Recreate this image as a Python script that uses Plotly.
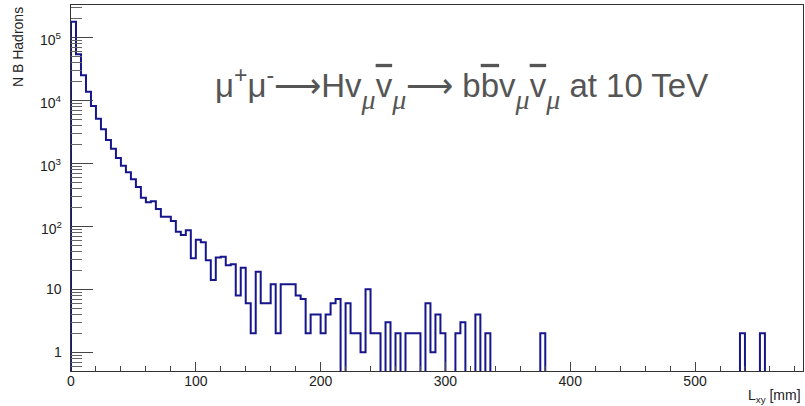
import numpy as np
import plotly.graph_objects as go

# ---------------- data ----------------
bin_width = 4.0          # mm per bin
x_max = 586.5            # axis upper end (mm)
n_bins = 147

counts_head = [
    177000, 54000, 25000, 13700, 8100, 5100, 3470, 2350, 1700, 1210,   # 0-9
    916, 720, 557, 421, 285, 240, 250, 188, 142, 142,                  # 10-19
    121, 82, 73, 87, 31, 61, 56, 29, 14, 32,                           # 20-29
    33, 24, 25, 8, 22, 6, 2, 19, 6, 6,                                 # 30-39
    12, 2, 12, 12, 12, 8, 7, 2, 4, 4,                                  # 40-49
    2, 4, 6, 7, 0, 6, 2, 2, 1, 10,                                     # 50-59
    2, 2, 0, 3, 0, 2, 0, 2, 2, 2,                                      # 60-69
    0, 6, 1, 4, 2, 0, 0, 2, 3, 0,                                      # 70-79
    0, 4, 0, 2, 0, 0, 0, 0, 0, 0,                                      # 80-89
    0, 0, 0, 0, 2,                                                     # 90-94
]
# isolated far entries: bin index -> count
far_bins = [134, 138]
far_counts = [2, 2]

y_tick_vals = [1, 10, 100, 1000, 10000, 100000]
y_tick_text = ["1", "10", "10<sup>2</sup>", "10<sup>3</sup>", "10<sup>4</sup>", "10<sup>5</sup>"]
y_min, y_max = 0.505, 3.26e5

# ---------------- build ----------------
counts = counts_head + [0] * (n_bins - len(counts_head))
for b, c in zip(far_bins, far_counts):
    counts[b] = c

edges = np.arange(n_bins + 1) * bin_width
floor = y_min / 20.0
yv = [c if c > 0 else floor for c in counts]
xs = [edges[0]] + list(edges[:-1]) + [edges[-1]]
ys = [floor] + yv + [yv[-1]]

minor_vals = [m * 10.0 ** e for e in range(-1, 6) for m in range(2, 10)]
minor_vals = [v for v in minor_vals if y_min <= v <= y_max]

FONT = "Liberation Sans, Arial, sans-serif"

fig = go.Figure()
fig.add_trace(go.Scatter(
    x=xs, y=ys, mode="lines", line=dict(shape="hv", color="#16168c", width=2),
    hoverinfo="skip", showlegend=False,
))

fig.update_layout(
    width=805, height=406,
    margin=dict(l=71, r=2, t=5, b=35),
    paper_bgcolor="white", plot_bgcolor="white",
    font=dict(family=FONT, size=14, color="#222"),
    showlegend=False,
)

fig.update_xaxes(
    range=[0, x_max], tick0=0, dtick=100, automargin=False,
    ticks="inside", ticklen=9, tickwidth=1, tickcolor="#444",
    minor=dict(ticks="inside", dtick=20, ticklen=5, tickwidth=1, tickcolor="#444", showgrid=False),
    showgrid=False, zeroline=False,
    showline=True, linecolor="#333", linewidth=1, mirror=True,
    tickfont=dict(family=FONT, size=14, color="#222"),
    ticklabelstandoff=-3,
)
fig.update_yaxes(
    type="log", range=[np.log10(y_min), np.log10(y_max)], automargin=False,
    tickmode="array", tickvals=y_tick_vals, showticklabels=False,
    ticks="inside", ticklen=22, tickwidth=1, tickcolor="#444",
    minor=dict(ticks="inside", tickmode="array", tickvals=minor_vals, ticklen=11,
               tickwidth=1, tickcolor="#666", showgrid=False),
    showgrid=False, zeroline=False,
    showline=True, linecolor="#333", linewidth=1, mirror=True,
)

# y tick labels (placed at the tick values)
for v, t in zip(y_tick_vals, y_tick_text):
    fig.add_annotation(
        text=t, xref="paper", x=0, xanchor="right", xshift=-7,
        yref="y", y=np.log10(v), yanchor="middle", yshift=(-2 if "sup" in t else 0),
        showarrow=False, font=dict(family=FONT, size=14, color="#222"),
    )

ov = "<span style='text-decoration:overline'>"
mu = "<sub><sub><span style='font-family:Liberation Serif;font-size:28px'><i>μ</i></span></sub></sub>"
title = ("μ<sup>+</sup>μ<sup>-</sup>⟶Hv" + mu + ov + "v</span>" + mu +
         "⟶ b" + ov + "b</span>v" + mu + ov + "v</span>" + mu + " at 10 TeV")

fig.add_annotation(
    text=title, xref="paper", yref="paper", x=(213 - 71) / 732, y=0.772,
    xanchor="left", yanchor="middle", showarrow=False,
    font=dict(family=FONT, size=33, color="#555"),
)
fig.add_annotation(
    text="N B Hadrons", xref="paper", yref="paper", x=0, y=1,
    xshift=-53, xanchor="center", yanchor="top", textangle=-90, showarrow=False,
    font=dict(family=FONT, size=14, color="#222"),
)
fig.add_annotation(
    text="L<sub>xy</sub> [mm]", xref="paper", yref="paper", x=1, y=0,
    yshift=-25, xanchor="right", yanchor="middle", showarrow=False,
    font=dict(family=FONT, size=14, color="#222"),
)

fig.write_html("out.html", config={"displayModeBar": False},
               post_script="document.body.style.margin='0';")
